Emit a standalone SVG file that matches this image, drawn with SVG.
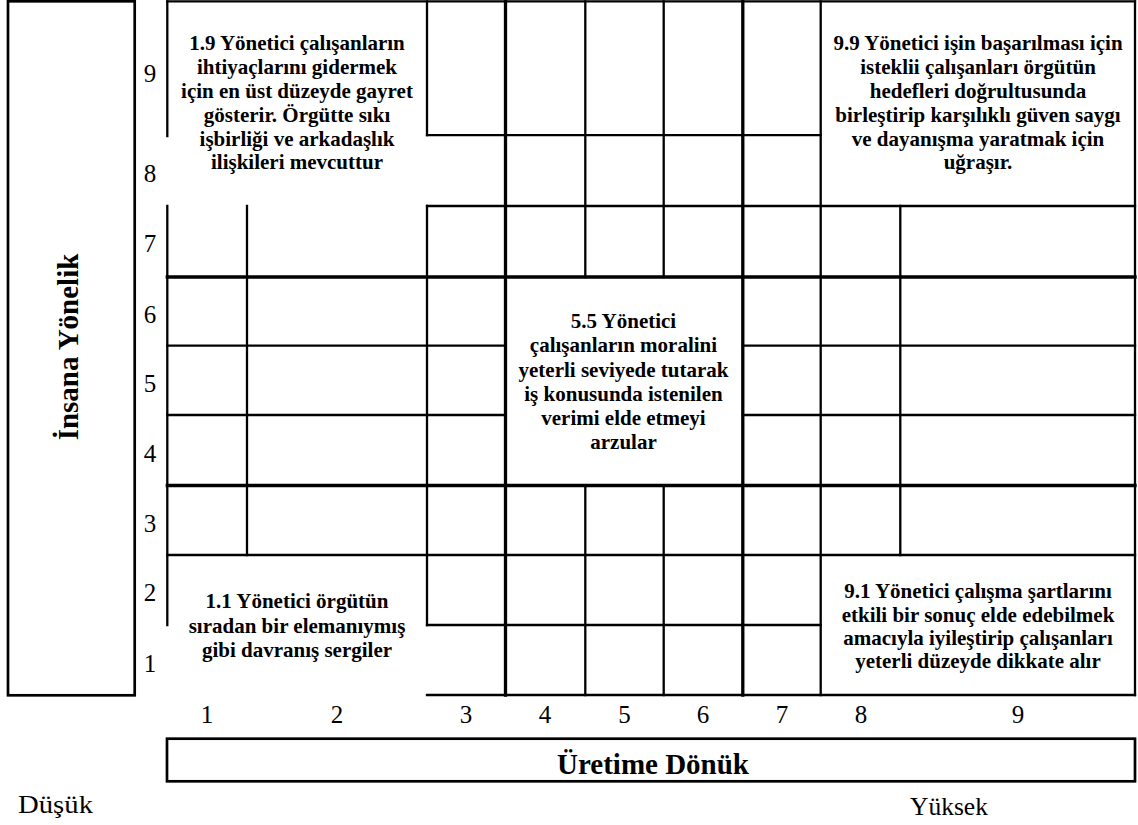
<svg xmlns="http://www.w3.org/2000/svg" width="1138" height="825" viewBox="0 0 1138 825">
  <style>
    .ln { fill: none; stroke: #000; stroke-width: 2.3; stroke-linecap: square; }
    .thick { stroke-width: 3.3; }
    .box { fill: none; stroke: #000; stroke-width: 2.7; }
    .num { font-family: "Liberation Serif", "Times New Roman", serif; font-size: 25px; fill: #000; text-anchor: middle; }
    .axis { font-family: "Liberation Serif", "Times New Roman", serif; font-size: 29px; font-weight: bold; fill: #000; text-anchor: middle; }
    .para { font-family: "Liberation Serif", "Times New Roman", serif; font-size: 21px; font-weight: bold; fill: #000; text-anchor: middle; }
    .end { font-family: "Liberation Serif", "Times New Roman", serif; font-size: 25.5px; fill: #000; }
  </style>

  <rect width="1138" height="825" fill="#fff"/>

  <!-- vertical axis title box -->
  <g id="axis-people">
    <rect class="box" x="8" y="1.3" width="126.7" height="694"/>
    <text class="axis" transform="translate(78,347) rotate(-90)">İnsana Yönelik</text>
  </g>

  <!-- horizontal axis title box -->
  <g id="axis-production">
    <rect class="box" x="167" y="738.7" width="968" height="42.6"/>
    <text class="axis" x="653" y="774">Üretime Dönük</text>
  </g>

  <!-- grid rules -->
  <g id="grid-lines">
    <!-- horizontal rules -->
    <path class="ln" d="M167.3 1.3H1135 M427 135.2H820.7 M427 206H1135 M167.3 345.7H505.5 M742.8 345.7H1135 M167.3 415H505.5 M742.8 415H1135 M167.3 555H1135 M427 625H820.7 M427 695H1135"/>
    <path class="ln thick" d="M167.3 277H1135 M167.3 485.5H1135"/>
    <!-- vertical rules -->
    <path class="ln" d="M167.3 1.3V136 M167.3 206V625 M247 206V555 M427 1.3V135.2 M427 206V625 M585.3 1.3V277 M585.3 485.5V695 M663.7 1.3V277 M663.7 485.5V695 M820.7 1.3V695 M900.3 206V555 M1135 1.3V695"/>
    <path class="ln thick" d="M505.5 1.3V695 M742.8 1.3V695"/>
  </g>

  <!-- row scale -->
  <g id="row-scale">
    <text class="num" x="150" y="82">9</text>
    <text class="num" x="150" y="182">8</text>
    <text class="num" x="150" y="252">7</text>
    <text class="num" x="150" y="323">6</text>
    <text class="num" x="150" y="392">5</text>
    <text class="num" x="150" y="462">4</text>
    <text class="num" x="150" y="532">3</text>
    <text class="num" x="150" y="601">2</text>
    <text class="num" x="150" y="672">1</text>
  </g>

  <!-- column scale -->
  <g id="column-scale">
    <text class="num" x="207" y="723">1</text>
    <text class="num" x="337" y="723">2</text>
    <text class="num" x="466" y="723">3</text>
    <text class="num" x="545" y="723">4</text>
    <text class="num" x="624.5" y="723">5</text>
    <text class="num" x="703" y="723">6</text>
    <text class="num" x="782" y="723">7</text>
    <text class="num" x="861" y="723">8</text>
    <text class="num" x="1018" y="723">9</text>
  </g>

  <!-- style 1.9 -->
  <g id="style-1-9">
    <text class="para" x="297" y="50">1.9 Yönetici çalışanların</text>
    <text class="para" x="297" y="74">ihtiyaçlarını gidermek</text>
    <text class="para" x="297" y="98">için en üst düzeyde gayret</text>
    <text class="para" x="297" y="122">gösterir. Örgütte sıkı</text>
    <text class="para" x="297" y="146">işbirliği ve arkadaşlık</text>
    <text class="para" x="297" y="169">ilişkileri mevcuttur</text>
  </g>

  <!-- style 9.9 -->
  <g id="style-9-9">
    <text class="para" x="978" y="50">9.9 Yönetici işin başarılması için</text>
    <text class="para" x="978" y="74">isteklii çalışanları örgütün</text>
    <text class="para" x="978" y="98">hedefleri doğrultusunda</text>
    <text class="para" x="978" y="122">birleştirip karşılıklı güven saygı</text>
    <text class="para" x="978" y="146">ve dayanışma yaratmak için</text>
    <text class="para" x="978" y="169">uğraşır.</text>
  </g>

  <!-- style 5.5 -->
  <g id="style-5-5">
    <text class="para" x="623.5" y="328">5.5 Yönetici</text>
    <text class="para" x="623.5" y="352">çalışanların moralini</text>
    <text class="para" x="623.5" y="377">yeterli seviyede tutarak</text>
    <text class="para" x="623.5" y="401">iş konusunda istenilen</text>
    <text class="para" x="623.5" y="425">verimi elde etmeyi</text>
    <text class="para" x="623.5" y="449">arzular</text>
  </g>

  <!-- style 1.1 -->
  <g id="style-1-1">
    <text class="para" x="297" y="608">1.1 Yönetici örgütün</text>
    <text class="para" x="297" y="633">sıradan bir elemanıymış</text>
    <text class="para" x="297" y="657">gibi davranış sergiler</text>
  </g>

  <!-- style 9.1 -->
  <g id="style-9-1">
    <text class="para" x="978" y="598">9.1 Yönetici çalışma şartlarını</text>
    <text class="para" x="978" y="622">etkili bir sonuç elde edebilmek</text>
    <text class="para" x="978" y="645">amacıyla iyileştirip çalışanları</text>
    <text class="para" x="978" y="668">yeterli düzeyde dikkate alır</text>
  </g>

  <!-- scale ends -->
  <g id="scale-ends">
    <text class="end" x="18" y="813" textLength="75" lengthAdjust="spacingAndGlyphs">Düşük</text>
    <text class="end" x="910" y="815">Yüksek</text>
  </g>
</svg>
